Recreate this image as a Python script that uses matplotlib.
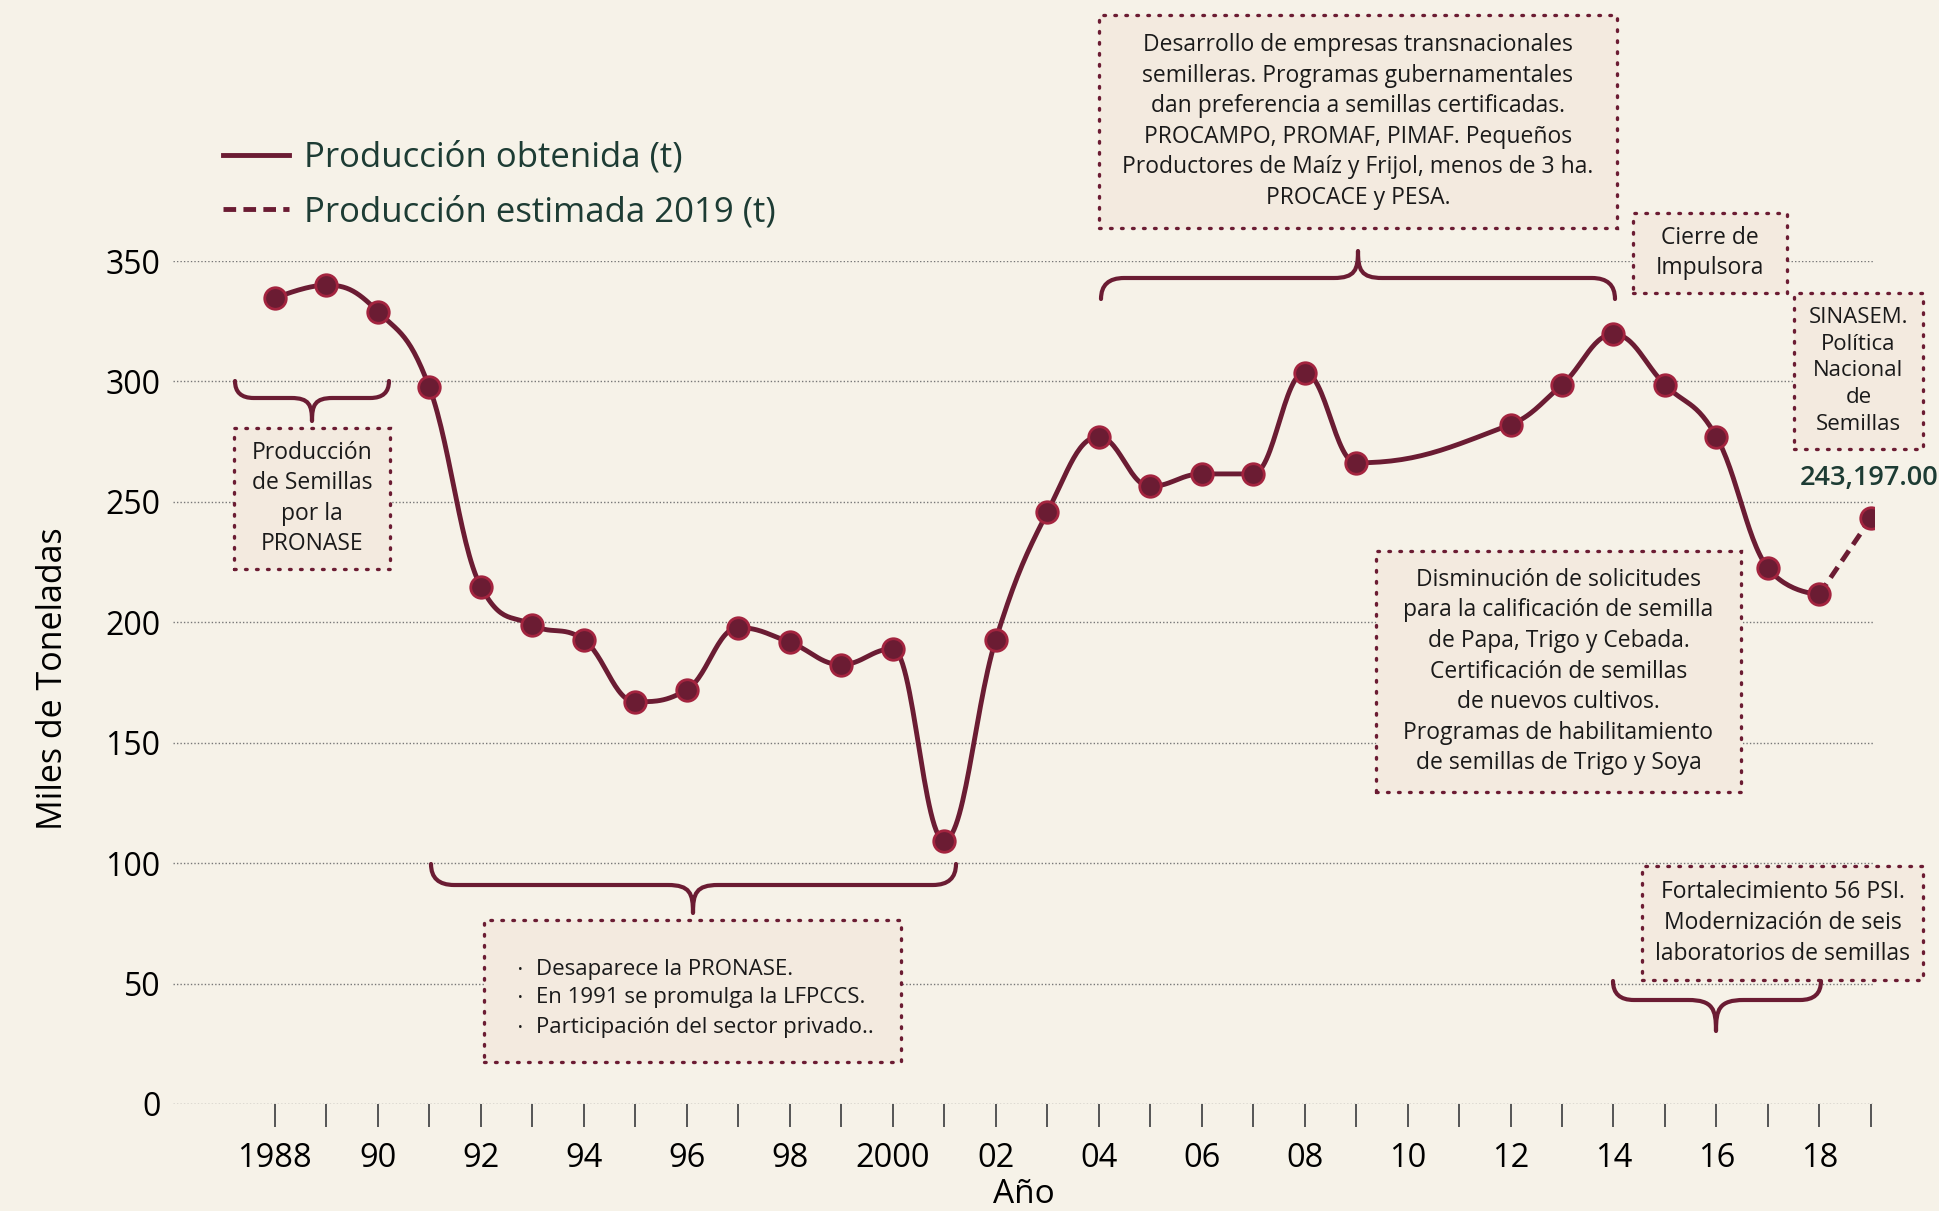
import numpy as np
import matplotlib
matplotlib.use("Agg")
import matplotlib.pyplot as plt
from matplotlib.lines import Line2D
from matplotlib.patches import Rectangle, PathPatch
from matplotlib.path import Path

# data (miles de toneladas)
years = [1988, 1989, 1990, 1991, 1992, 1993, 1994, 1995, 1996, 1997, 1998, 1999,
         2000, 2001, 2002, 2003, 2004, 2005, 2006, 2007, 2008, 2009,
         2012, 2013, 2014, 2015, 2016, 2017, 2018]
produccion = [334.5, 340.0, 329.0, 297.5, 214.8, 198.9, 192.7, 167.0, 172.0, 197.8, 191.7, 182.4,
              189.0, 109.4, 192.7, 245.6, 277.0, 256.4, 261.6, 261.6, 303.7, 266.2,
              282.1, 298.6, 319.6, 298.6, 277.0, 222.5, 211.7]
est_years = [2018, 2019]
estimada = [211.7, 243.197]
y_ticks = [0, 50, 100, 150, 200, 250, 300, 350]
x_major = list(range(1988, 2019, 2))
x_labels = ["1988", "90", "92", "94", "96", "98", "2000", "02", "04", "06", "08",
            "10", "12", "14", "16", "18"]

bg = "#f6f2e8"
guinda = "#6b1c33"
edge = "#a3243f"
green = "#1d3c34"
boxfill = "#f3eadf"
txt = "#1a1a1a"
plt.rcParams["font.family"] = ["Open Sans", "DejaVu Sans"]

W, H = 1940, 1211


def px(x, y):
    return x / W, 1 - y / H


def spline(xs, ys, smoothing=1.5, n=30):
    # highcharts-style spline
    m = len(xs)
    lc = [(xs[i], ys[i]) for i in range(m)]
    rc = [(xs[i], ys[i]) for i in range(m)]
    d = smoothing + 1
    for i in range(1, m - 1):
        x, y = xs[i], ys[i]
        lx = (smoothing * x + xs[i - 1]) / d
        ly = (smoothing * y + ys[i - 1]) / d
        rx = (smoothing * x + xs[i + 1]) / d
        ry = (smoothing * y + ys[i + 1]) / d
        corr = (ry - ly) * (rx - x) / (rx - lx) + y - ry
        ly += corr
        ry += corr
        if ly > ys[i - 1] and ly > y:
            ly = max(ys[i - 1], y)
            ry = 2 * y - ly
        elif ly < ys[i - 1] and ly < y:
            ly = min(ys[i - 1], y)
            ry = 2 * y - ly
        if ry > ys[i + 1] and ry > y:
            ry = max(ys[i + 1], y)
            ly = 2 * y - ry
        elif ry < ys[i + 1] and ry < y:
            ry = min(ys[i + 1], y)
            ly = 2 * y - ry
        lc[i] = (lx, ly)
        rc[i] = (rx, ry)
    t = np.linspace(0, 1, n)
    ox, oy = [], []
    for i in range(1, m):
        p0 = np.array([xs[i - 1], ys[i - 1]])
        c1 = np.array(rc[i - 1])
        c2 = np.array(lc[i])
        p3 = np.array([xs[i], ys[i]])
        b = ((1 - t) ** 3)[:, None] * p0 + (3 * (1 - t) ** 2 * t)[:, None] * c1 \
            + (3 * (1 - t) * t ** 2)[:, None] * c2 + (t ** 3)[:, None] * p3
        ox.extend(b[:, 0])
        oy.extend(b[:, 1])
    return ox, oy


fig = plt.figure(figsize=(19.4, 12.11), dpi=100)
fig.patch.set_facecolor(bg)
ax = fig.add_axes([173 / W, 1 - 1104 / H, (1874 - 173) / W, (1104 - 261) / H])
ax.set_facecolor(bg)

sx, sy = spline(years, produccion)
ax.plot(sx, sy, color=guinda, lw=3.5, zorder=3, solid_capstyle="round")
ax.plot(est_years, estimada, color=guinda, lw=3.5, ls=(0, (2.6, 1.5)), zorder=3)
ax.plot(years + [2019], produccion + [estimada[1]], ls="none", marker="o", ms=15.5,
        mfc=guinda, mec=edge, mew=2, zorder=4)

ax.set_xlim(1986.02, 2019.06)
ax.set_ylim(0, 350)
ax.set_yticks(y_ticks)
ax.set_xticks(x_major)
ax.set_xticklabels(x_labels)
ax.set_xticks(list(range(1989, 2020, 2)), minor=True)
ax.tick_params(axis="y", length=0, pad=9, labelsize=23)
ax.tick_params(axis="x", which="both", length=16.5, width=1.4, color="#555555",
               direction="out", pad=11, labelsize=23.5)
ax.grid(axis="y", color="#777777", lw=1, ls=(0, (1, 1.5)))
for s in ax.spines.values():
    s.set_visible(False)
ax.set_ylabel("Miles de Toneladas", fontsize=24.5)
ax.yaxis.set_label_coords(-0.0705, 0.505)
ax.yaxis.label.set_va("center")
ax.set_xlabel("Año", fontsize=24)
ax.xaxis.set_label_coords(0.5, -0.107)
ax.xaxis.label.set_va("center")

handles = [Line2D([], [], color=guinda, lw=3.5),
           Line2D([], [], color=guinda, lw=3.5, ls=(0, (2.6, 1.5)))]
leg = ax.legend(handles, ["Producción obtenida (t)", "Producción estimada 2019 (t)"],
                loc="center left", bbox_to_anchor=px(206, 185), bbox_transform=fig.transFigure,
                frameon=False, fontsize=25, handlelength=1.9, handletextpad=0.42,
                labelspacing=0.58, borderpad=0)
for t in leg.get_texts():
    t.set_color(green)


def box(x0, y0, x1, y1, text=None, size=16.5):
    bx, by = px(x0, y1)
    r = Rectangle((bx, by), (x1 - x0) / W, (y1 - y0) / H, transform=fig.transFigure,
                  facecolor=boxfill, edgecolor=guinda, lw=2.4, ls=(0, (0.5, 2.8)),
                  capstyle="round", zorder=5)
    fig.add_artist(r)
    if text:
        fig.text(*px((x0 + x1) / 2, (y0 + y1) / 2), text, ha="center", va="center",
                 fontsize=size, color=txt, linespacing=1.37, zorder=6)


def brace(x0, x1, yend, ybar, xtip, ytip):
    r = abs(ybar - yend) * 1.1
    r2 = abs(ytip - ybar) * 0.9
    dd = ytip - ybar
    pts = [(x0, yend), (x0, ybar), (x0 + r, ybar),
           (xtip - r2, ybar),
           (xtip - 3, ybar), (xtip, ybar + 0.3 * dd), (xtip, ytip),
           (xtip, ybar + 0.3 * dd), (xtip + 3, ybar), (xtip + r2, ybar),
           (x1 - r, ybar),
           (x1, ybar), (x1, yend)]
    codes = [Path.MOVETO, Path.CURVE3, Path.CURVE3, Path.LINETO,
             Path.CURVE4, Path.CURVE4, Path.CURVE4,
             Path.CURVE4, Path.CURVE4, Path.CURVE4,
             Path.LINETO, Path.CURVE3, Path.CURVE3]
    p = Path([px(a, b) for a, b in pts], codes)
    fig.add_artist(PathPatch(p, transform=fig.transFigure, fill=False, edgecolor=guinda,
                             lw=3, capstyle="round", joinstyle="round", zorder=5))


box(234, 428, 390, 569, "Producción\nde Semillas\npor la\nPRONASE")
brace(235, 389, 381, 398, 312, 421)

box(484, 920, 901, 1062)
for i, line in enumerate(["Desaparece la PRONASE.", "En 1991 se promulga la LFPCCS.",
                          "Participación del sector privado.."]):
    yy = 969 + i * 29
    fig.text(*px(520, yy), "•", ha="center", va="center", fontsize=9, color=txt, zorder=6)
    fig.text(*px(536, yy), line, ha="left", va="center", fontsize=16, color=txt, zorder=6)
brace(431, 956, 864, 885, 693, 913)

box(1099, 15, 1617, 228, "Desarrollo de empresas transnacionales\nsemilleras. Programas gubernamentales\n"
    "dan preferencia a semillas certificadas.\nPROCAMPO, PROMAF, PIMAF. Pequeños\n"
    "Productores de Maíz y Frijol, menos de 3 ha.\nPROCACE y PESA.")
brace(1101, 1615, 299, 278, 1358, 251)

box(1633, 213, 1787, 293, "Cierre de\nImpulsora")
box(1794, 293, 1923, 449, "SINASEM.\nPolítica\nNacional\nde\nSemillas", size=16)
fig.text(*px(1869, 478), "243,197.00", ha="center", va="center", fontsize=19.5,
         fontweight=600, color=green, zorder=6)

box(1376, 551, 1741, 792, "Disminución de solicitudes\npara la calificación de semilla\n"
    "de Papa, Trigo y Cebada.\nCertificación de semillas\nde nuevos cultivos.\n"
    "Programas de habilitamiento\nde semillas de Trigo y Soya")

box(1642, 866, 1923, 980, "Fortalecimiento 56 PSI.\nModernización de seis\nlaboratorios de semillas")
brace(1613, 1821, 981, 1000, 1716, 1031)

fig.savefig("out.png", dpi=100, facecolor=bg)
